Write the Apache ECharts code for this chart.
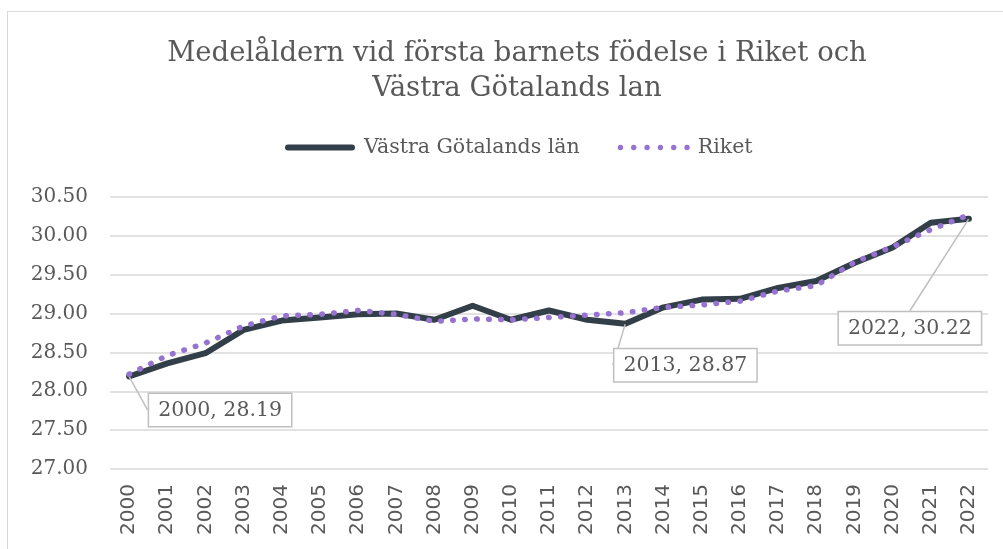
<!DOCTYPE html>
<html>
<head>
<meta charset="utf-8">
<script src="https://cdn.jsdelivr.net/npm/echarts@6/dist/echarts.min.js"></script>
<style>
  html, body { margin: 0; padding: 0; background: #fff; }
  #chart { width: 1003px; height: 549px; }
  .frame { position: absolute; left: 7px; top: 11px; width: 1010px; height: 560px; border: 1px solid #d9d9d9; box-sizing: border-box; pointer-events: none; }
</style>
</head>
<body>
<div id="chart"></div>
<div class="frame"></div>
<script>
// årtal
const years = ["2000", "2001", "2002", "2003", "2004", "2005", "2006", "2007", "2008", "2009", "2010", "2011",
  "2012", "2013", "2014", "2015", "2016", "2017", "2018", "2019", "2020", "2021", "2022"];
// Västra Götalands län
const vgValues = [28.19, 28.36, 28.49, 28.79, 28.91, 28.95, 28.99, 29.00, 28.92, 29.10, 28.92, 29.04,
  28.92, 28.87, 29.08, 29.18, 29.19, 29.33, 29.42, 29.65, 29.85, 30.17, 30.22];
// Riket
const riketValues = [28.22, 28.46, 28.62, 28.84, 28.97, 28.99, 29.04, 28.99, 28.90, 28.93, 28.92, 28.95,
  28.98, 29.01, 29.08, 29.11, 29.16, 29.29, 29.36, 29.66, 29.86, 30.08, 30.27];
// punkter med etikett
const calloutYears = ["2000", "2013", "2022"];

const serif = "DejaVu Serif";
const textColor = "#595959";

// etikettplacering (förskjutning från punkten)
const calloutShift = { 0: [91, 55], 13: [60, 63], 22: [-59, 131] };

const chart = echarts.init(document.getElementById("chart"));

const vgData = vgValues.map((v, i) => {
  if (calloutYears.indexOf(years[i]) < 0) return v;
  return {
    value: v,
    label: {
      show: true,
      formatter: years[i] + ", " + v.toFixed(2),
      fontFamily: serif,
      fontSize: 20.5,
      color: textColor,
      backgroundColor: "#fff",
      borderColor: "#bfbfbf",
      borderWidth: 1.5,
      padding: [6, 9, 5, 9],
    },
    labelLine: {
      show: true,
      lineStyle: { color: "#bfbfbf", width: 1.5 },
    },
  };
});

// legendikoner: heldragen linje och prickar
const solidIcon = "path://M3,0 L67,0 A3,3 0 0 1 67,6 L3,6 A3,3 0 0 1 3,0 Z";
const dotIcon = "path://" + [0, 1, 2, 3, 4, 5].map((k) => {
  const cx = 3 + k * 12.8;
  return "M" + (cx - 2.6) + ",3 A2.6,2.6 0 1 0 " + (cx + 2.6) + ",3 A2.6,2.6 0 1 0 " + (cx - 2.6) + ",3 Z";
}).join(" ");

chart.setOption({
  animation: false,
  backgroundColor: "#fff",
  title: {
    text: "Medelåldern vid första barnets födelse i Riket och\nVästra Götalands lan",
    left: 512,
    textAlign: "center",
    top: 31,
    textStyle: {
      fontFamily: serif,
      fontWeight: "normal",
      fontSize: 27.5,
      lineHeight: 35,
      color: textColor,
    },
  },
  legend: {
    top: 132,
    left: 280,
    itemWidth: 72,
    itemHeight: 6,
    itemGap: 38,
    textStyle: { fontFamily: serif, fontSize: 20.5, color: textColor, padding: [0, 0, 0, 3] },
    data: [
      { name: "Västra Götalands län", icon: solidIcon, itemStyle: { color: "#333f48" } },
      { name: "Riket", icon: dotIcon, itemStyle: { color: "#9673d0" } },
    ],
  },
  grid: {
    left: 110,
    right: 15,
    top: 197,
    bottom: 80,
    containLabel: false,
  },
  xAxis: {
    type: "category",
    data: years,
    boundaryGap: true,
    axisLine: { show: false },
    axisTick: { show: false },
    axisLabel: {
      rotate: 90,
      fontFamily: "DejaVu Sans",
      fontSize: 20,
      color: textColor,
      margin: 15,
    },
  },
  yAxis: {
    type: "value",
    min: 27,
    max: 30.5,
    interval: 0.5,
    axisLine: { show: false },
    axisTick: { show: false },
    splitLine: { lineStyle: { color: "#d9d9d9", width: 1.5 } },
    axisLabel: {
      formatter: (v) => v.toFixed(2),
      fontFamily: serif,
      fontSize: 20,
      color: textColor,
      margin: 22,
    },
  },
  series: [
    {
      name: "Västra Götalands län",
      type: "line",
      data: vgData,
      symbol: "circle",
      symbolSize: 1,
      showAllSymbol: true,
      itemStyle: { color: "#333f48" },
      lineStyle: { color: "#333f48", width: 6, cap: "round", join: "round" },
      labelLayout: (params) => {
        const s = calloutShift[params.dataIndex];
        if (!s) return {};
        return { dx: s[0], dy: s[1] };
      },
      z: 2,
    },
    {
      name: "Riket",
      type: "line",
      data: riketValues,
      showSymbol: false,
      itemStyle: { color: "#9673d0" },
      lineStyle: { color: "#9673d0", width: 5.5, type: [0.5, 11.5], cap: "round" },
      z: 3,
    },
  ],
});
</script>
</body>
</html>
